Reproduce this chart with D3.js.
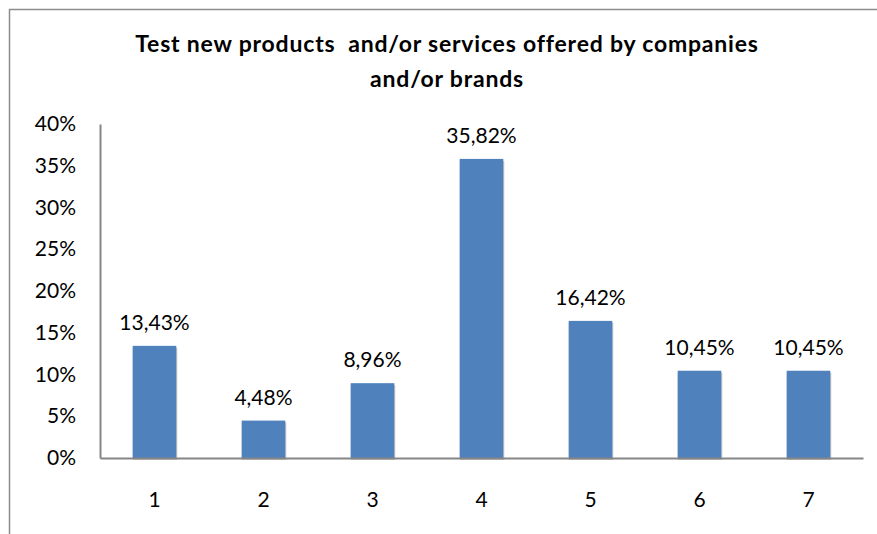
<!DOCTYPE html>
<html>
<head>
<meta charset="utf-8">
<script src="https://cdn.jsdelivr.net/npm/d3@7"></script>
<style>
  html, body { margin: 0; padding: 0; background: #fff; }
  svg { display: block; }
  text { font-family: Lato, "Open Sans", sans-serif; fill: #000; }
</style>
</head>
<body>
<svg id="chart" width="877" height="534"></svg>
<script>
// Share of respondents per answer option (percent)
const categories = ["1", "2", "3", "4", "5", "6", "7"];
const values = [13.43, 4.48, 8.96, 35.82, 16.42, 10.45, 10.45];
const yTicks = [0, 5, 10, 15, 20, 25, 30, 35, 40];
const titleLines = ["Test new products  and/or services offered by companies", "and/or brands"];

const svg = d3.select("#chart");
const W = 877, H = 534;
const plot = { left: 100, right: 863, top: 124, bottom: 458 };

// Chart frame (runs off the right and bottom edges)
svg.append("rect")
  .attr("x", 9.5).attr("y", 9.5)
  .attr("width", W + 20).attr("height", H + 20)
  .attr("fill", "#fff")
  .attr("stroke", "#8c8c8c").attr("stroke-width", 1.5);

// Title
const title = svg.append("text")
  .attr("text-anchor", "middle")
  .attr("font-weight", "bold")
  .attr("font-size", 23)
  .attr("letter-spacing", 0.8);
titleLines.forEach((t, i) => {
  title.append("tspan")
    .attr("x", 447).attr("y", 52 + i * 35)
    .style("white-space", "pre")
    .text(t);
});

const x = d3.scaleBand()
  .domain(categories)
  .range([plot.left, plot.right])
  .paddingInner(0.6).paddingOuter(0.3);

const y = d3.scaleLinear()
  .domain([0, 40])
  .range([plot.bottom, plot.top]);

const fmt = v => v.toFixed(2).replace(".", ",") + "%";

// Bars with a faint shadow at the base
const bars = svg.append("g");
bars.selectAll("rect.shadow")
  .data(values)
  .join("rect")
  .attr("class", "shadow")
  .attr("x", (d, i) => x(categories[i]))
  .attr("y", d => y(d) + 2)
  .attr("width", x.bandwidth() + 1)
  .attr("height", d => y(0) - y(d))
  .attr("fill", "#c9c9c9");
bars.selectAll("rect.bar")
  .data(values)
  .join("rect")
  .attr("class", "bar")
  .attr("x", (d, i) => x(categories[i]))
  .attr("y", d => y(d))
  .attr("width", x.bandwidth())
  .attr("height", d => y(0) - y(d))
  .attr("fill", "#4f81bd");

// Value labels
svg.append("g").selectAll("text")
  .data(values)
  .join("text")
  .attr("x", (d, i) => x(categories[i]) + x.bandwidth() / 2)
  .attr("y", d => y(d) - 16)
  .attr("text-anchor", "middle")
  .attr("font-size", 21)
  .text(fmt);

// Y axis
const yAxis = svg.append("g")
  .attr("transform", `translate(${plot.left},0)`)
  .call(d3.axisLeft(y).tickValues(yTicks).tickSize(0).tickPadding(24)
    .tickFormat(d => d + "%"));
yAxis.select(".domain").attr("stroke", "#868686").attr("stroke-width", 2);
yAxis.selectAll("text").attr("font-size", 21).attr("font-family", "Lato, sans-serif").attr("fill", "#000");

// X axis
const xAxis = svg.append("g")
  .attr("transform", `translate(0,${plot.bottom})`)
  .call(d3.axisBottom(x).tickSize(0).tickPadding(34));
xAxis.select(".domain").attr("stroke", "#868686").attr("stroke-width", 2);
xAxis.selectAll("text").attr("font-size", 21).attr("font-family", "Lato, sans-serif").attr("fill", "#000");
</script>
</body>
</html>
